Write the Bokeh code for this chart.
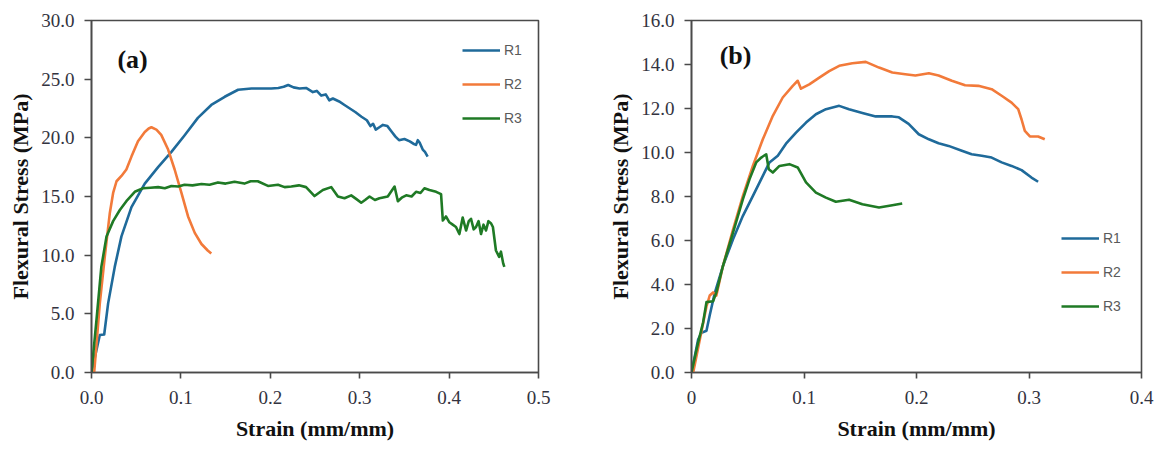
from bokeh.plotting import figure
from bokeh.models import (Range1d, FixedTicker, CustomJSTickFormatter, Legend,
                          LegendItem, Label)
from bokeh.layouts import row
from bokeh.embed import file_html
from bokeh.resources import INLINE

# ---------------- data: panel (a) ----------------
a_r1_strain = [0, 0.0093, 0.0142, 0.0186, 0.026, 0.0335, 0.0447, 0.0596, 0.0745,
               0.0894, 0.104, 0.119, 0.134, 0.149, 0.164, 0.179, 0.190, 0.201,
               0.209, 0.215, 0.220, 0.226, 0.2327, 0.240, 0.2476, 0.252, 0.257,
               0.262, 0.266, 0.270, 0.277, 0.283, 0.289, 0.295, 0.302, 0.308,
               0.312, 0.315, 0.318, 0.322, 0.326, 0.331, 0.336, 0.340, 0.344,
               0.350, 0.356, 0.360, 0.363, 0.365, 0.367, 0.3705, 0.373, 0.376]
a_r1_stress = [0, 3.19, 3.24, 5.89, 9.0, 11.6, 14.1, 16.1, 17.5,
               18.8, 20.2, 21.7, 22.8, 23.5, 24.1, 24.2, 24.2, 24.2,
               24.25, 24.35, 24.5, 24.3, 24.2, 24.25, 23.9, 24.0, 23.6,
               23.7, 23.2, 23.35, 23.1, 22.8, 22.5, 22.2, 21.8, 21.5,
               21.0, 21.2, 20.7, 20.9, 21.1, 21.0, 20.5, 20.1, 19.8,
               19.9, 19.7, 19.5, 19.4, 19.8, 19.6, 19.0, 18.8, 18.4]

a_r2_strain = [0.003, 0.0093, 0.0149, 0.0205, 0.0242, 0.028, 0.0335, 0.039, 0.0447,
               0.052, 0.0596, 0.064, 0.067, 0.0726, 0.078, 0.0857, 0.093, 0.1006,
               0.108, 0.1155, 0.123, 0.130, 0.134]
a_r2_stress = [0, 5.9, 9.9, 13.6, 15.3, 16.3, 16.75, 17.3, 18.4,
               19.7, 20.5, 20.8, 20.9, 20.7, 20.25, 19.0, 17.3, 15.3,
               13.3, 11.9, 10.95, 10.4, 10.15]

a_r3_strain = [0, 0.0056, 0.011, 0.0168, 0.0242, 0.0317, 0.039, 0.0484, 0.0577,
               0.066, 0.0745, 0.082, 0.0894, 0.097, 0.104, 0.113, 0.123, 0.132,
               0.1415, 0.150, 0.160, 0.171, 0.178, 0.186, 0.1974, 0.2086, 0.216,
               0.2235, 0.232, 0.240, 0.2495, 0.2588, 0.2681, 0.2756, 0.283, 0.2905,
               0.296, 0.3017, 0.306, 0.311, 0.317, 0.3221, 0.3314, 0.339, 0.3427,
               0.347, 0.352, 0.358, 0.363, 0.368, 0.3724, 0.378, 0.3855, 0.391,
               0.393, 0.3965, 0.4003, 0.404, 0.4077, 0.4115, 0.4152, 0.419, 0.422,
               0.4245, 0.4275, 0.4301, 0.433, 0.4357, 0.4385, 0.4413, 0.444, 0.447,
               0.449, 0.4524, 0.456, 0.458, 0.4605, 0.4618]
a_r3_stress = [0, 4.5, 9.0, 11.6, 12.9, 13.85, 14.6, 15.4, 15.7,
               15.75, 15.8, 15.7, 15.9, 15.85, 16.0, 15.95, 16.07, 16.0,
               16.2, 16.1, 16.25, 16.1, 16.3, 16.3, 15.9, 16.0, 15.8,
               15.85, 15.95, 15.8, 15.04, 15.55, 15.8, 15.0, 14.85, 15.1,
               14.8, 14.47, 14.7, 15.0, 14.7, 14.85, 15.0, 15.85, 14.6,
               14.9, 15.1, 15.0, 15.4, 15.3, 15.7, 15.55, 15.4, 15.2,
               12.95, 13.3, 12.8, 12.6, 12.4, 11.8, 13.2, 12.1, 12.9,
               13.1, 12.2, 12.4, 12.9, 11.8, 12.6, 12.1, 12.9, 12.7,
               12.4, 10.4, 9.85, 10.3, 9.3, 9.0]

# ---------------- data: panel (b) ----------------
b_r1_strain = [0, 0.0059, 0.0088, 0.0133, 0.0162, 0.0206, 0.028, 0.0369, 0.0457,
               0.0546, 0.0634, 0.0693, 0.0767, 0.084, 0.0929, 0.1018, 0.1106, 0.1195,
               0.1313, 0.140, 0.1519, 0.1637, 0.1785, 0.1843, 0.193, 0.202, 0.211,
               0.2196, 0.2285, 0.2403, 0.249, 0.258, 0.2668, 0.2757, 0.2845, 0.2934,
               0.3022, 0.3081]
b_r1_stress = [0, 1.5, 1.8, 1.9, 2.6, 3.6, 4.85, 6.06, 7.12,
               8.03, 8.94, 9.55, 9.85, 10.4, 10.9, 11.36, 11.74, 11.97,
               12.12, 11.97, 11.8, 11.64, 11.64, 11.6, 11.3, 10.83, 10.6,
               10.42, 10.3, 10.08, 9.92, 9.85, 9.77, 9.55, 9.39, 9.2,
               8.86, 8.67]

b_r2_strain = [0.0015, 0.0074, 0.0133, 0.0162, 0.0192, 0.0221, 0.028, 0.0369, 0.0457,
               0.0546, 0.0634, 0.0723, 0.0811, 0.09, 0.0944, 0.0973, 0.1047, 0.1136,
               0.1224, 0.1313, 0.143, 0.1549, 0.1667, 0.1785, 0.190, 0.199, 0.211,
               0.2196, 0.2314, 0.2432, 0.255, 0.2668, 0.2757, 0.2845, 0.2904, 0.2934,
               0.2963, 0.3008, 0.3081, 0.314]
b_r2_stress = [0, 1.5, 3.0, 3.5, 3.64, 3.5, 4.85, 6.5, 8.03,
               9.4, 10.6, 11.67, 12.5, 13.03, 13.26, 12.9, 13.1, 13.4,
               13.7, 13.94, 14.06, 14.12, 13.86, 13.64, 13.56, 13.5, 13.6,
               13.5, 13.26, 13.06, 13.03, 12.88, 12.58, 12.27, 11.97, 11.5,
               10.98, 10.73, 10.73, 10.6]

b_r3_strain = [0, 0.0059, 0.0103, 0.0133, 0.0192, 0.0221, 0.028, 0.0369, 0.0457,
               0.0516, 0.0575, 0.062, 0.0664, 0.0687, 0.0723, 0.0782, 0.087, 0.0944,
               0.1018, 0.1106, 0.1195, 0.1283, 0.1401, 0.1519, 0.1667, 0.1785, 0.1873]
b_r3_stress = [0, 1.36, 2.27, 3.2, 3.24, 3.64, 4.85, 6.36, 7.88,
               8.79, 9.55, 9.77, 9.92, 9.24, 9.09, 9.39, 9.47, 9.32,
               8.64, 8.18, 7.95, 7.76, 7.85, 7.65, 7.5, 7.6, 7.68]

series_names = ["R1", "R2", "R3"]
colors = ["#1F6A9A", "#F27A3A", "#1F7A25"]

a_xticks = [0, 0.1, 0.2, 0.3, 0.4, 0.5]
a_yticks = [0, 5, 10, 15, 20, 25, 30]
b_xticks = [0, 0.1, 0.2, 0.3, 0.4]
b_yticks = [0, 2, 4, 6, 8, 10, 12, 14, 16]

x_title = "Strain (mm/mm)"
y_title = "Flexural Stress (MPa)"

SERIF = "Liberation Serif"
FRAME = "#4a4a4a"


def style(p, xticks, yticks, xfmt):
    p.xgrid.visible = False
    p.ygrid.visible = False
    p.outline_line_color = FRAME
    p.outline_line_width = 1.6
    p.background_fill_color = "white"
    p.border_fill_color = "white"
    for ax in (p.xaxis[0], p.yaxis[0]):
        ax.axis_line_color = FRAME
        ax.axis_line_width = 1.6
        ax.major_tick_line_color = FRAME
        ax.major_tick_line_width = 1.6
        ax.minor_tick_line_color = None
        ax.major_tick_in = 0
        ax.major_label_text_font = SERIF
        ax.major_label_text_font_size = "19px"
        ax.major_label_text_color = "#333340"
        ax.axis_label_text_font = SERIF
        ax.axis_label_text_font_style = "bold"
        ax.axis_label_text_font_size = "22px"
        ax.axis_label_text_color = "#111111"
    p.xaxis[0].ticker = FixedTicker(ticks=xticks)
    p.yaxis[0].ticker = FixedTicker(ticks=yticks)
    p.xaxis[0].formatter = CustomJSTickFormatter(code=xfmt)
    p.yaxis[0].formatter = CustomJSTickFormatter(code="return tick.toFixed(1);")
    p.xaxis[0].major_tick_out = 6
    p.xaxis[0].major_label_standoff = 12
    p.xaxis[0].axis_label_standoff = 9
    p.yaxis[0].major_tick_out = 7
    p.yaxis[0].major_label_standoff = 10
    p.yaxis[0].axis_label_standoff = 5
    p.xaxis[0].axis_label = x_title
    p.yaxis[0].axis_label = y_title


def panel(width, left, right, xr, yr, xticks, yticks, xfmt, data, tag, tag_xy,
          leg_loc):
    p = figure(width=width, height=448, output_backend="svg", toolbar_location=None,
               x_range=Range1d(*xr), y_range=Range1d(*yr),
               min_border_left=left, min_border_right=right,
               min_border_top=20, min_border_bottom=76)
    style(p, xticks, yticks, xfmt)
    items = []
    for (xs, ys), name, c in zip(data, series_names, colors):
        r = p.line(xs, ys, line_color=c, line_width=2.6, line_join="round")
        items.append(LegendItem(label=name, renderers=[r]))
    leg = Legend(items=items, location=leg_loc, orientation="vertical",
                 glyph_width=38, glyph_height=20, label_height=20, spacing=14,
                 padding=0, margin=0, label_standoff=4,
                 border_line_alpha=0, background_fill_alpha=0,
                 label_text_font="Liberation Sans", label_text_font_size="14px",
                 label_text_color="#5a5a5a")
    p.add_layout(leg)
    p.add_layout(Label(x=tag_xy[0], y=tag_xy[1], text=tag, text_font=SERIF,
                       text_font_style="bold", text_font_size="26px",
                       text_color="#111111", text_baseline="middle"))
    return p


pa = panel(567, 91, 29, (0, 0.5), (0, 30), a_xticks, a_yticks,
           "return tick.toFixed(1);",
           [(a_r1_strain, a_r1_stress), (a_r2_strain, a_r2_stress),
            (a_r3_strain, a_r3_stress)],
           "(a)", (0.029, 26.7), (371, 244))

pb = panel(588, 124, 14, (0, 0.4), (0, 16), b_xticks, b_yticks,
           "return tick == 0 ? '0' : tick.toFixed(1);",
           [(b_r1_strain, b_r1_stress), (b_r2_strain, b_r2_stress),
            (b_r3_strain, b_r3_stress)],
           "(b)", (0.025, 14.4), (370, 56))

layout = row(pa, pb)
open("out.html", "w").write(file_html(layout, INLINE))
